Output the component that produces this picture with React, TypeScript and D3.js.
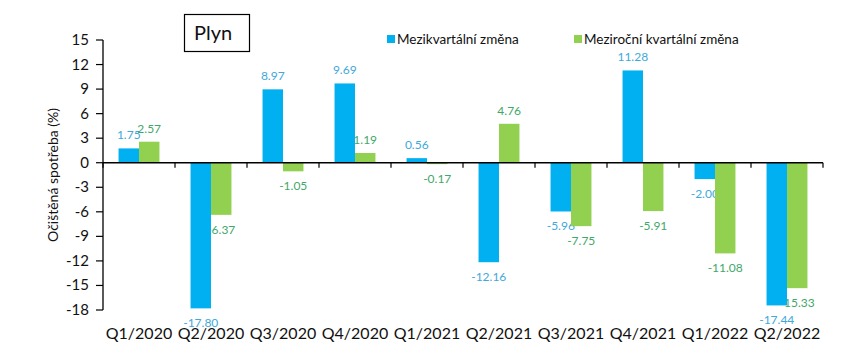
import * as d3 from 'd3';

// quarters and the two series (%)
const categories = ['Q1/2020', 'Q2/2020', 'Q3/2020', 'Q4/2020', 'Q1/2021', 'Q2/2021', 'Q3/2021', 'Q4/2021', 'Q1/2022', 'Q2/2022'];
const qoq = [1.75, -17.8, 8.97, 9.69, 0.56, -12.16, -5.96, 11.28, -2.0, -17.44];
const yoy = [2.57, -6.37, -1.05, 1.19, -0.17, 4.76, -7.75, -5.91, -11.08, -15.33];
const yTicks = [15, 12, 9, 6, 3, 0, -3, -6, -9, -12, -15, -18];
const seriesNames = ['Mezikvartální změna', 'Meziroční kvartální změna'];

const W = 867;
const H = 360;
const FONT = 'Lato, "Open Sans", sans-serif';

const BLUE = '#00b0f0';
const GREEN = '#92d050';
const BLUE_LBL = '#41a9d9';
const GREEN_LBL = '#3fa86a';

export default function App() {
  const x = d3.scaleBand<string>().domain(categories).range([103, 823]).padding(0);
  const sub = d3.scaleBand<string>().domain(['qoq', 'yoy']).range([0, x.bandwidth()]).paddingInner(0).paddingOuter(0.76);
  const y = d3.scaleLinear().domain([-18, 15]).range([310, 40]);
  const y0 = y(0);

  const series = [
    { key: 'qoq', values: qoq, fill: BLUE, lbl: BLUE_LBL },
    { key: 'yoy', values: yoy, fill: GREEN, lbl: GREEN_LBL },
  ];

  const boundaries = d3.range(categories.length + 1).map((i) => 103 + i * x.step());

  return (
    <svg width={W} height={H} style={{ position: 'absolute', left: 0, top: 0, background: '#fff' }} fontFamily={FONT}>
      {/* title box */}
      <rect x={184.5} y={14.5} width={65} height={37} fill="#fff" stroke="#000" strokeWidth={1.2} />
      <text x={194} y={40} fontSize={20} fill="#111">Plyn</text>

      {/* legend */}
      {seriesNames.map((name, i) => {
        const lx = i === 0 ? 387 : 574;
        return (
          <g key={name}>
            <rect x={lx} y={35} width={8} height={8} fill={i === 0 ? BLUE : GREEN} />
            <text x={lx + 10} y={44} fontSize={13.5} fill="#111">{name}</text>
          </g>
        );
      })}

      {/* data labels (drawn under the bars, as in the original) */}
      {series.map((s) =>
        s.values.map((v, i) => {
          const cx = (x(categories[i]) as number) + (sub(s.key) as number) + sub.bandwidth() / 2;
          const ly = v >= 0 ? y(v) - 9 : y(v) + 19;
          return (
            <text key={s.key + i} x={cx} y={ly} fontSize={12} fill={s.lbl} textAnchor="middle">
              {v.toFixed(2)}
            </text>
          );
        })
      )}

      {/* bars */}
      {series.map((s) =>
        s.values.map((v, i) => (
          <rect
            key={'b' + s.key + i}
            x={(x(categories[i]) as number) + (sub(s.key) as number)}
            y={Math.min(y(v), y0)}
            width={sub.bandwidth()}
            height={Math.abs(y(v) - y0)}
            fill={s.fill}
          />
        ))
      )}

      {/* y axis */}
      <line x1={103} x2={103} y1={y(15)} y2={y(-18)} stroke="#000" strokeWidth={1.3} />
      {yTicks.map((t) => (
        <g key={t}>
          <line x1={96} x2={103} y1={y(t)} y2={y(t)} stroke="#000" strokeWidth={1.2} />
          <text x={89} y={y(t) + 5} fontSize={15} textAnchor="end" fill="#111">{t}</text>
        </g>
      ))}

      {/* x axis at zero */}
      <line x1={103} x2={823} y1={y0} y2={y0} stroke="#000" strokeWidth={1.3} />
      {boundaries.map((bx, i) => (
        <line key={i} x1={bx} x2={bx} y1={y0} y2={y0 + 5} stroke="#000" strokeWidth={1.2} />
      ))}
      {categories.map((c) => (
        <text key={c} x={(x(c) as number) + x.bandwidth() / 2} y={339} fontSize={16} textAnchor="middle" fill="#111">
          {c}
        </text>
      ))}

      {/* y title */}
      <text transform={`translate(58,${y(-1.5)}) rotate(-90)`} fontSize={14} textAnchor="middle" fill="#111">
        Očištěná spotřeba (%)
      </text>
    </svg>
  );
}
